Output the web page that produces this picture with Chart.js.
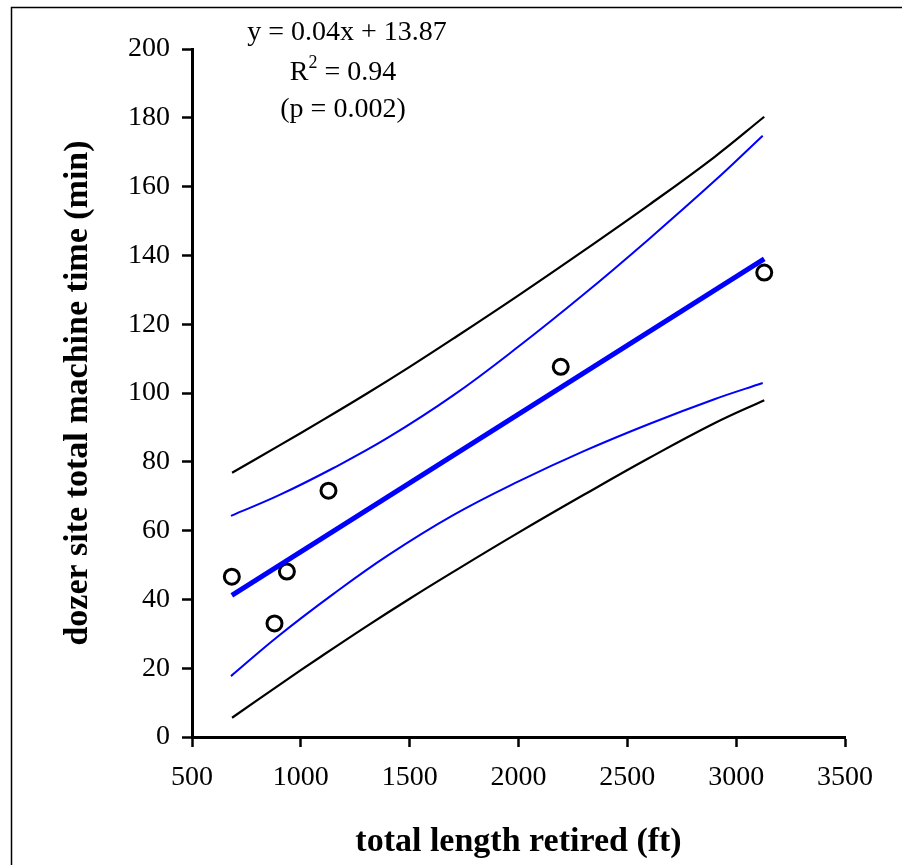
<!DOCTYPE html>
<html>
<head>
<meta charset="utf-8">
<script src="https://cdn.jsdelivr.net/npm/chart.js@4.4.1/dist/chart.umd.min.js"></script>
<style>
  html, body { margin: 0; padding: 0; background: #fff; }
  #wrap { width: 902px; height: 865px; position: relative; }
</style>
</head>
<body>
<div id="wrap"><canvas id="chart"></canvas></div>
<script>
// observed points
const obsX = [683, 879, 936, 1127, 2194, 3129];
const obsY = [46.6, 33.0, 48.1, 71.6, 107.6, 135.0];

// fitted line
const fitX = [683, 3129];
const fitY = [41.2, 139.0];

// confidence band (blue)
const confX = [679, 900, 1150, 1400, 1700, 2000, 2300, 2600, 2900, 3122];
const confUpperY = [64.3, 70.3, 78.2, 87.0, 99.3, 113.5, 128.7, 144.8, 161.6, 174.8];
const confLowerY = [17.7, 29.5, 41.6, 52.8, 64.5, 74.3, 83.1, 91.0, 98.2, 102.9];

// prediction band (black)
const predX = [684, 900, 1100, 1300, 1500, 1700, 2000, 2300, 2600, 2900, 3129];
const predUpperY = [76.8, 84.7, 92.1, 99.7, 107.6, 115.8, 128.4, 141.4, 154.7, 168.6, 180.3];
const predLowerY = [5.6, 15.1, 23.7, 32.1, 40.2, 48.0, 59.4, 70.4, 81.1, 91.2, 97.9];

const eqLines = ['y = 0.04x + 13.87', 'R', '2', ' = 0.94', '(p = 0.002)'];

const pts = (xs, ys) => xs.map((x, i) => ({ x, y: ys[i] }));

const serif = "'Liberation Serif', 'Times New Roman', serif";

function curve(data, color, width) {
  return {
    type: 'line',
    data,
    borderColor: color,
    borderWidth: width,
    pointRadius: 0,
    fill: false,
    tension: 0.4,
  };
}

// white page, outer frame and equation text
const decor = {
  id: 'decor',
  beforeDraw(chart) {
    const ctx = chart.ctx;
    ctx.save();
    ctx.fillStyle = '#fff';
    ctx.fillRect(0, 0, chart.width, chart.height);
    ctx.strokeStyle = '#000';
    ctx.lineWidth = 1.5;
    ctx.strokeRect(11.5, 7.5, chart.width + 10, chart.height + 10);
    ctx.restore();
  },
  afterDraw(chart) {
    const ctx = chart.ctx;
    ctx.save();
    ctx.fillStyle = '#000';
    ctx.textBaseline = 'middle';
    ctx.textAlign = 'center';
    ctx.font = '28px ' + serif;
    ctx.fillText(eqLines[0], 347, 33);
    ctx.fillText(eqLines[4], 343, 110);

    // R² with a raised small 2
    ctx.textAlign = 'left';
    const wR = ctx.measureText(eqLines[1]).width;
    const wRest = ctx.measureText(eqLines[3]).width;
    ctx.font = '18px ' + serif;
    const w2 = ctx.measureText(eqLines[2]).width;
    const start = 343 - (wR + w2 + wRest) / 2;
    ctx.font = '28px ' + serif;
    ctx.fillText(eqLines[1], start, 73);
    ctx.fillText(eqLines[3], start + wR + w2, 73);
    ctx.font = '18px ' + serif;
    ctx.fillText(eqLines[2], start + wR, 63);
    ctx.restore();
  }
};

new Chart(document.getElementById('chart'), {
  type: 'scatter',
  data: {
    datasets: [
      curve(pts(predX, predUpperY), '#000000', 2.2),
      curve(pts(predX, predLowerY), '#000000', 2.2),
      curve(pts(confX, confUpperY), '#0000FF', 2),
      curve(pts(confX, confLowerY), '#0000FF', 2),
      {
        type: 'line',
        data: pts(fitX, fitY),
        borderColor: '#0000FF',
        borderWidth: 5,
        pointRadius: 0,
        fill: false,
      },
      {
        data: pts(obsX, obsY),
        pointRadius: 7.5,
        pointBorderWidth: 3,
        pointBorderColor: '#000',
        pointBackgroundColor: '#fff',
      }
    ]
  },
  options: {
    responsive: true,
    maintainAspectRatio: false,
    animation: false,
    layout: { padding: { left: 0, top: 49, right: 57, bottom: 0 } },
    plugins: { legend: { display: false }, tooltip: { enabled: false } },
    scales: {
      x: {
        type: 'linear',
        min: 500, max: 3500,
        afterFit: s => { s.height = 128; },
        ticks: { stepSize: 500, color: '#000', padding: 14, maxRotation: 0, callback: v => String(v), font: { family: serif, size: 28 } },
        grid: { drawOnChartArea: false, drawTicks: true, tickLength: 10, tickWidth: 2.5, tickColor: '#000' },
        border: { display: true, color: '#000', width: 3 },
        title: { display: true, text: 'total length retired (ft)', color: '#000', padding: { top: 0, bottom: 2 }, font: { family: serif, size: 34, weight: 'bold' } }
      },
      y: {
        min: 0, max: 200,
        afterFit: s => { s.width = 192; },
        ticks: { stepSize: 20, color: '#000', padding: 12, callback: v => String(v), font: { family: serif, size: 28 } },
        grid: { drawOnChartArea: false, drawTicks: true, tickLength: 10, tickWidth: 2.5, tickColor: '#000' },
        border: { display: true, color: '#000', width: 3 },
        title: { display: true, text: 'dozer site total machine time (min)', color: '#000', padding: { top: 58, bottom: 0 }, font: { family: serif, size: 34, weight: 'bold' } }
      }
    }
  },
  plugins: [decor]
});
</script>
</body>
</html>
